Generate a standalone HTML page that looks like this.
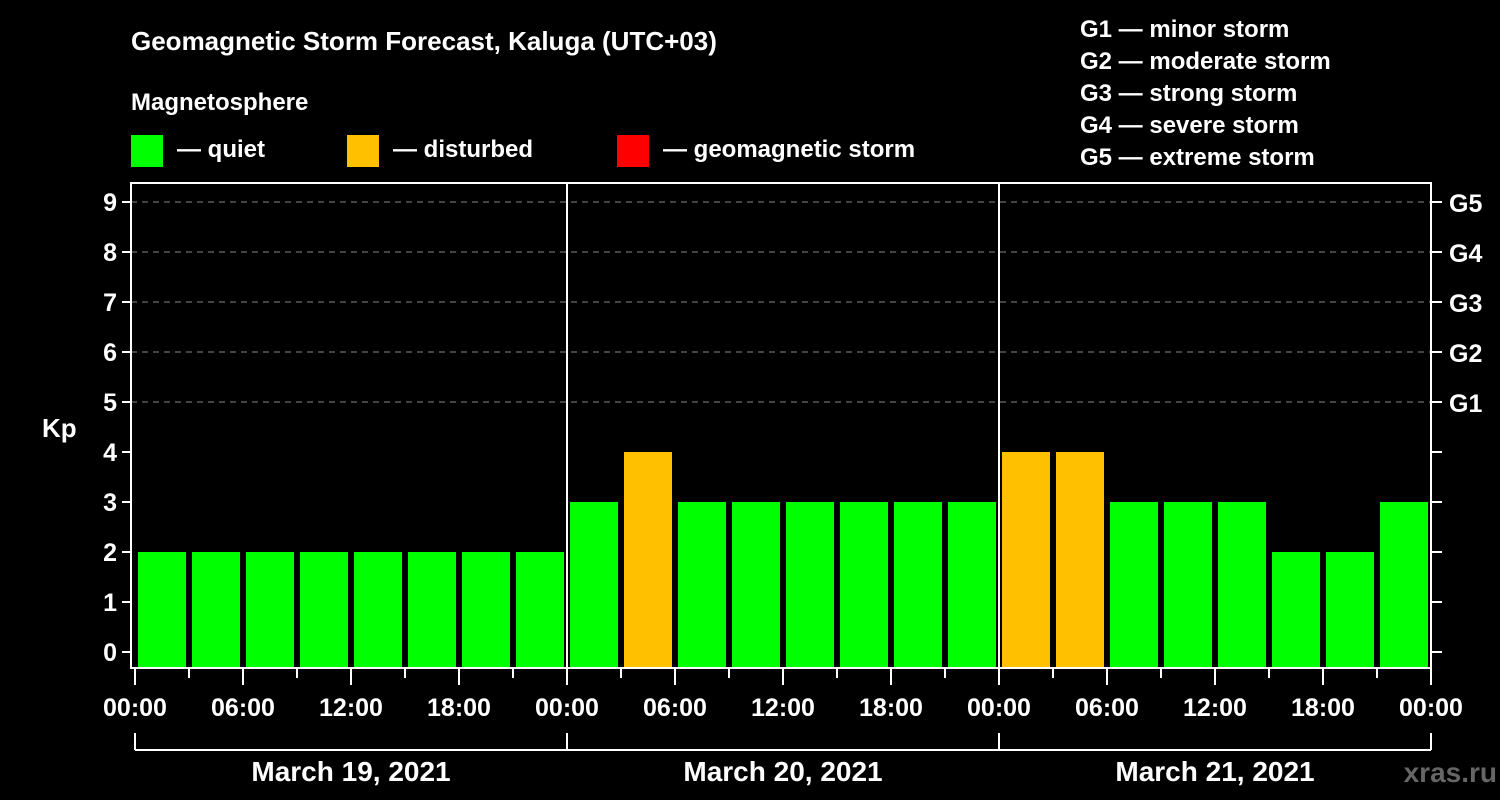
<!DOCTYPE html>
<html><head><meta charset="utf-8"><style>
body{margin:0;background:#000;}
svg{display:block;font-family:"Liberation Sans",sans-serif;font-weight:bold;}
</style></head><body>
<svg id="chart" width="1500" height="800" viewBox="0 0 1500 800">
<rect width="1500" height="800" fill="#000"/>
<text x="131" y="50" fill="#fff" font-size="26">Geomagnetic Storm Forecast, Kaluga (UTC+03)</text>
<text x="131" y="110" fill="#fff" font-size="24">Magnetosphere</text>
<g><rect x="131" y="135" width="32" height="32" fill="#00ff00"/><text x="177" y="157" fill="#fff" font-size="24">— quiet</text></g>
<g><rect x="347" y="135" width="32" height="32" fill="#ffc000"/><text x="393" y="157" fill="#fff" font-size="24">— disturbed</text></g>
<g><rect x="617" y="135" width="32" height="32" fill="#ff0000"/><text x="663" y="157" fill="#fff" font-size="24">— geomagnetic storm</text></g>
<g fill="#fff" font-size="24">
<text x="1080" y="37">G1 — minor storm</text>
<text x="1080" y="69">G2 — moderate storm</text>
<text x="1080" y="101">G3 — strong storm</text>
<text x="1080" y="133">G4 — severe storm</text>
<text x="1080" y="165">G5 — extreme storm</text>
</g>
<text x="42" y="437" fill="#fff" font-size="26">Kp</text>
<text x="1497" y="782" fill="#666" font-size="28" text-anchor="end">xras.ru</text>
<g id="plot"></g>
</svg>
<script>
const kpValues=[2,2,2,2,2,2,2,2, 3,4,3,3,3,3,3,3, 4,4,3,3,3,2,2,3];
const barStates=["q","q","q","q","q","q","q","q","q","d","q","q","q","q","q","q","d","d","q","q","q","q","q","q"];
const yTicks=[0,1,2,3,4,5,6,7,8,9];
const gLabels=["G1","G2","G3","G4","G5"];
const gLevels=[5,6,7,8,9];
const timeLabels=["00:00","06:00","12:00","18:00"];
const dayLabels=["March 19, 2021","March 20, 2021","March 21, 2021"];
const NS="http://www.w3.org/2000/svg";
const plot=document.getElementById('plot');
const L=131,R=1431,T=183,B=668,X0=135,PITCH=54;
const y=v=>652-50*v;
const x=i=>X0+PITCH*i;
function mk(t,a,p){const e=document.createElementNS(NS,t);for(const k in a)e.setAttribute(k,a[k]);(p||plot).appendChild(e);return e;}
// grid
gLevels.forEach(v=>{const l=mk('line',{x1:L,x2:R,y1:y(v),y2:y(v),stroke:'#888','stroke-width':1,'stroke-dasharray':'6,5'});

});
// bars
kpValues.forEach((v,i)=>{const r=mk('rect',{x:x(i)+3,y:y(v),width:48,height:B-y(v),fill:barStates[i]==='d'?'#ffc000':(barStates[i]==='s'?'#ff0000':'#00ff00')});

});
// day separators
[1,2].forEach(d=>{const l=mk('line',{x1:x(d*8),x2:x(d*8),y1:T,y2:B,stroke:'#fff','stroke-width':2});

});
// frame
const f=mk('rect',{x:L,y:T,width:R-L,height:B-T,fill:'none',stroke:'#fff','stroke-width':2});


// y ticks
yTicks.forEach(v=>{mk('line',{x1:122,x2:L,y1:y(v),y2:y(v),stroke:'#fff','stroke-width':2});
mk('line',{x1:R,x2:1442,y1:y(v),y2:y(v),stroke:'#fff','stroke-width':2});
const t=mk('text',{x:117,y:y(v)+9,fill:'#fff','font-size':25,'text-anchor':'end'});t.textContent=v;

});
gLabels.forEach((g,i)=>{const t=mk('text',{x:1449,y:y(gLevels[i])+10,fill:'#fff','font-size':25});t.textContent=g;

});
// x ticks
for(let i=0;i<=24;i++){const major=i%2===0;mk('line',{x1:x(i),x2:x(i),y1:B,y2:major?685:678,stroke:'#fff','stroke-width':2});}
for(let d=0;d<3;d++){timeLabels.forEach((s,k)=>{const t=mk('text',{x:x(d*8+k*2),y:716,fill:'#fff','font-size':25,'text-anchor':'middle'});t.textContent=s;

});}
const te=mk('text',{x:x(24),y:716,fill:'#fff','font-size':25,'text-anchor':'middle'});te.textContent="00:00";


// date bracket
mk('line',{x1:x(0),x2:x(24),y1:750,y2:750,stroke:'#fff','stroke-width':2});
[0,8,16,24].forEach(i=>mk('line',{x1:x(i),x2:x(i),y1:733,y2:750,stroke:'#fff','stroke-width':2}));
dayLabels.forEach((s,d)=>{const t=mk('text',{x:x(d*8+4),y:781,fill:'#fff','font-size':28,'text-anchor':'middle'});t.textContent=s;

});
</script>
</body></html>
